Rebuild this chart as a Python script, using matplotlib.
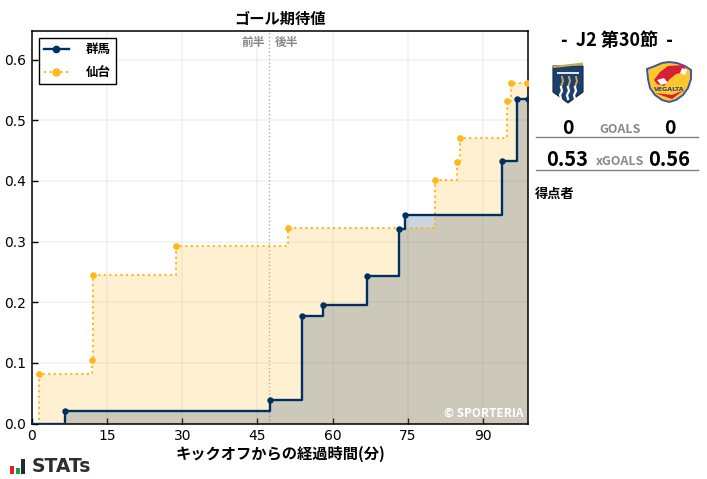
import matplotlib
matplotlib.use("Agg")
import matplotlib.pyplot as plt
from matplotlib.patches import Polygon, Rectangle

plt.rcParams['font.family'] = ['DejaVu Sans', 'Noto Sans CJK JP']
jp = ['Noto Sans CJK JP', 'DejaVu Sans']

# チームごとの xG 累積
home_name = "群馬"
home_min = [0, 6.6, 47.5, 53.8, 58.1, 66.8, 73.2, 74.5, 93.8, 96.8, 99.0]
home_xg = [0, 0.020, 0.039, 0.177, 0.195, 0.243, 0.320, 0.343, 0.432, 0.535, 0.535]
away_name = "仙台"
away_min = [0, 1.3, 12.0, 12.1, 28.8, 51.0, 80.4, 84.8, 85.4, 94.9, 95.6, 98.8]
away_xg = [0, 0.082, 0.105, 0.244, 0.292, 0.323, 0.401, 0.431, 0.470, 0.531, 0.562, 0.562]

x_ticks = [0, 15, 30, 45, 60, 75, 90]
y_ticks = [0.0, 0.1, 0.2, 0.3, 0.4, 0.5, 0.6]

navy = "#00305f"
yellow = "#ffb71b"
W, H = 707, 479

fig = plt.figure(figsize=(7.07, 4.79), dpi=100)
ax = fig.add_axes([32 / W, 1 - 423.5 / H, 496 / W, 392.5 / H])

ax.fill_between(away_min + [99], away_xg + [0.562], step="post", color=yellow, alpha=0.2, lw=0, zorder=2)
ax.fill_between(home_min, home_xg, step="post", color=navy, alpha=0.2, lw=0, zorder=2)
ax.step(home_min, home_xg, where="post", color=navy, lw=1.7, zorder=4)
ax.step(away_min + [99], away_xg + [0.562], where="post", color=yellow, lw=1.5, ls=":", zorder=3)
ax.plot(home_min[1:], home_xg[1:], "o", color=navy, ms=3.6, zorder=5)
ax.plot(away_min[1:], away_xg[1:], "o", color=yellow, ms=3.8, zorder=5)

# 凡例
ax.plot([], [], "-o", color=navy, lw=1.7, ms=4.5, label=home_name)
ax.plot([], [], ":o", color=yellow, lw=1.5, ms=5, label=away_name)
leg = ax.legend(loc="upper left", bbox_to_anchor=(0.0, 1.0), fancybox=False, framealpha=1,
                edgecolor="black", prop={'family': jp, 'weight': 'bold', 'size': 9},
                borderpad=0.4, labelspacing=0.8, handlelength=2.0, handletextpad=1.35,
                borderaxespad=0.55)
leg.get_frame().set_linewidth(1.0)
leg.set_zorder(6)

ax.set_xlim(0, 99)
ax.set_ylim(0, 0.647)
ax.set_xticks(x_ticks)
ax.set_yticks(y_ticks)
ax.tick_params(direction="in", labelsize=10, length=4, width=1, pad=4)
ax.grid(True, color="#808080", alpha=0.1, lw=1.2, zorder=1)
ax.set_axisbelow(True)
for s in ax.spines.values():
    s.set_linewidth(1.1)

ax.axvline(47.3, color="#b0b0b0", ls=":", lw=1, zorder=1)
ax.text(46.6, 0.639, "前半", ha="right", va="top", fontsize=8.5, color="#888888",
        family=jp, weight="bold")
ax.text(48.4, 0.639, "後半", ha="left", va="top", fontsize=8.5, color="#888888",
        family=jp, weight="bold")
ax.text(0.99, 0.009, "© SPORTERIA", transform=ax.transAxes, ha="right", va="bottom",
        fontsize=8.5, color="white", family=jp, weight="bold", zorder=7)
ax.set_title("ゴール期待値", family=jp, weight="bold", fontsize=11, pad=5)
ax.set_xlabel("キックオフからの経過時間(分)", family=jp, weight="bold", fontsize=11, labelpad=2)

# 右側のパネルはピクセル座標で描く
pn = fig.add_axes([0, 0, 1, 1], zorder=8)
pn.set_xlim(0, W)
pn.set_ylim(H, 0)
pn.axis("off")
pn.patch.set_alpha(0)


def label(x, y, s, size, color="black", ha="center"):
    pn.text(x, y, s, ha=ha, va="center", fontsize=size, color=color, family=jp, weight="bold")


label(617, 40, "-  J2 第30節  -", 13)
label(568, 128, "0", 14)
label(670, 128, "0", 14)
label(620, 129.5, "GOALS", 9, "#888888")
label(567.5, 160, "0.53", 14.5)
label(669, 160, "0.56", 14.5)
label(620, 161.5, "xGOALS", 9, "#888888")
label(535, 194, "得点者", 9.5, ha="left")
pn.plot([536, 698], [137, 137], color="#808080", lw=1)
pn.plot([536, 698], [169.5, 169.5], color="#808080", lw=1)

# 群馬エンブレム
pn.add_patch(Polygon([(553, 66), (583, 66), (583, 92), (568, 103), (553, 92)], fc="#1c3f6e",
                     ec="#0f2748", lw=0.8))
pn.add_patch(Polygon([(553, 66), (583, 62.5), (583, 65), (553, 68)], fc="#c9a94e", lw=0))
pn.add_patch(Rectangle((557, 72), 22, 1.5, fc="#dfe6ee", lw=0))
for px in (561, 568, 575):
    pn.plot([px + 1, px + 2, px], [77, 81, 87], color="#c9a94e", lw=1.4)
    pn.plot([px, px + 1, px - 1, px], [87, 91, 95, 99], color="white", lw=1.6)

# 仙台エンブレム
pn.add_patch(Polygon([(647, 69), (655, 66), (662, 63), (669, 62), (677, 63), (685, 66), (691, 70),
                      (691, 79), (688, 88), (683, 95), (676, 100), (669, 102), (662, 100),
                      (655, 95), (650, 88), (648, 79)], fc="#ffc72c", ec="#3b56a5", lw=1.4))
pn.add_patch(Polygon([(654, 80), (660, 72), (668, 66), (684, 65), (686, 72), (676, 74), (670, 79),
                      (664, 86), (657, 84)], fc="#d81f3a", lw=0))
pn.add_patch(Polygon([(657, 80), (664, 78), (668, 83), (661, 85)], fc="white", lw=0))
pn.add_patch(Polygon([(682, 68), (687, 70), (685, 75), (680, 73)], fc="white", lw=0))
pn.add_patch(Polygon([(655, 93), (672, 99), (684, 90), (672, 95)], fc="#d81f3a", lw=0))
pn.text(669, 89, "VEGALTA", ha="center", va="center", fontsize=4.5, color="#2b3f8f", weight="bold")

# STATs ロゴ
pn.add_patch(Rectangle((10, 466), 4, 8, fc="#d9262a", lw=0))
pn.add_patch(Rectangle((16, 468), 4, 6, fc="#1f9e4a", lw=0))
pn.add_patch(Rectangle((21, 459), 3.5, 15, fc="#1c2b3a", lw=0))
pn.text(32, 467, "STATs", ha="left", va="center", fontsize=13.5, color="#2a2f36", weight="bold",
        family="DejaVu Sans")

fig.savefig("out.png", dpi=100)
